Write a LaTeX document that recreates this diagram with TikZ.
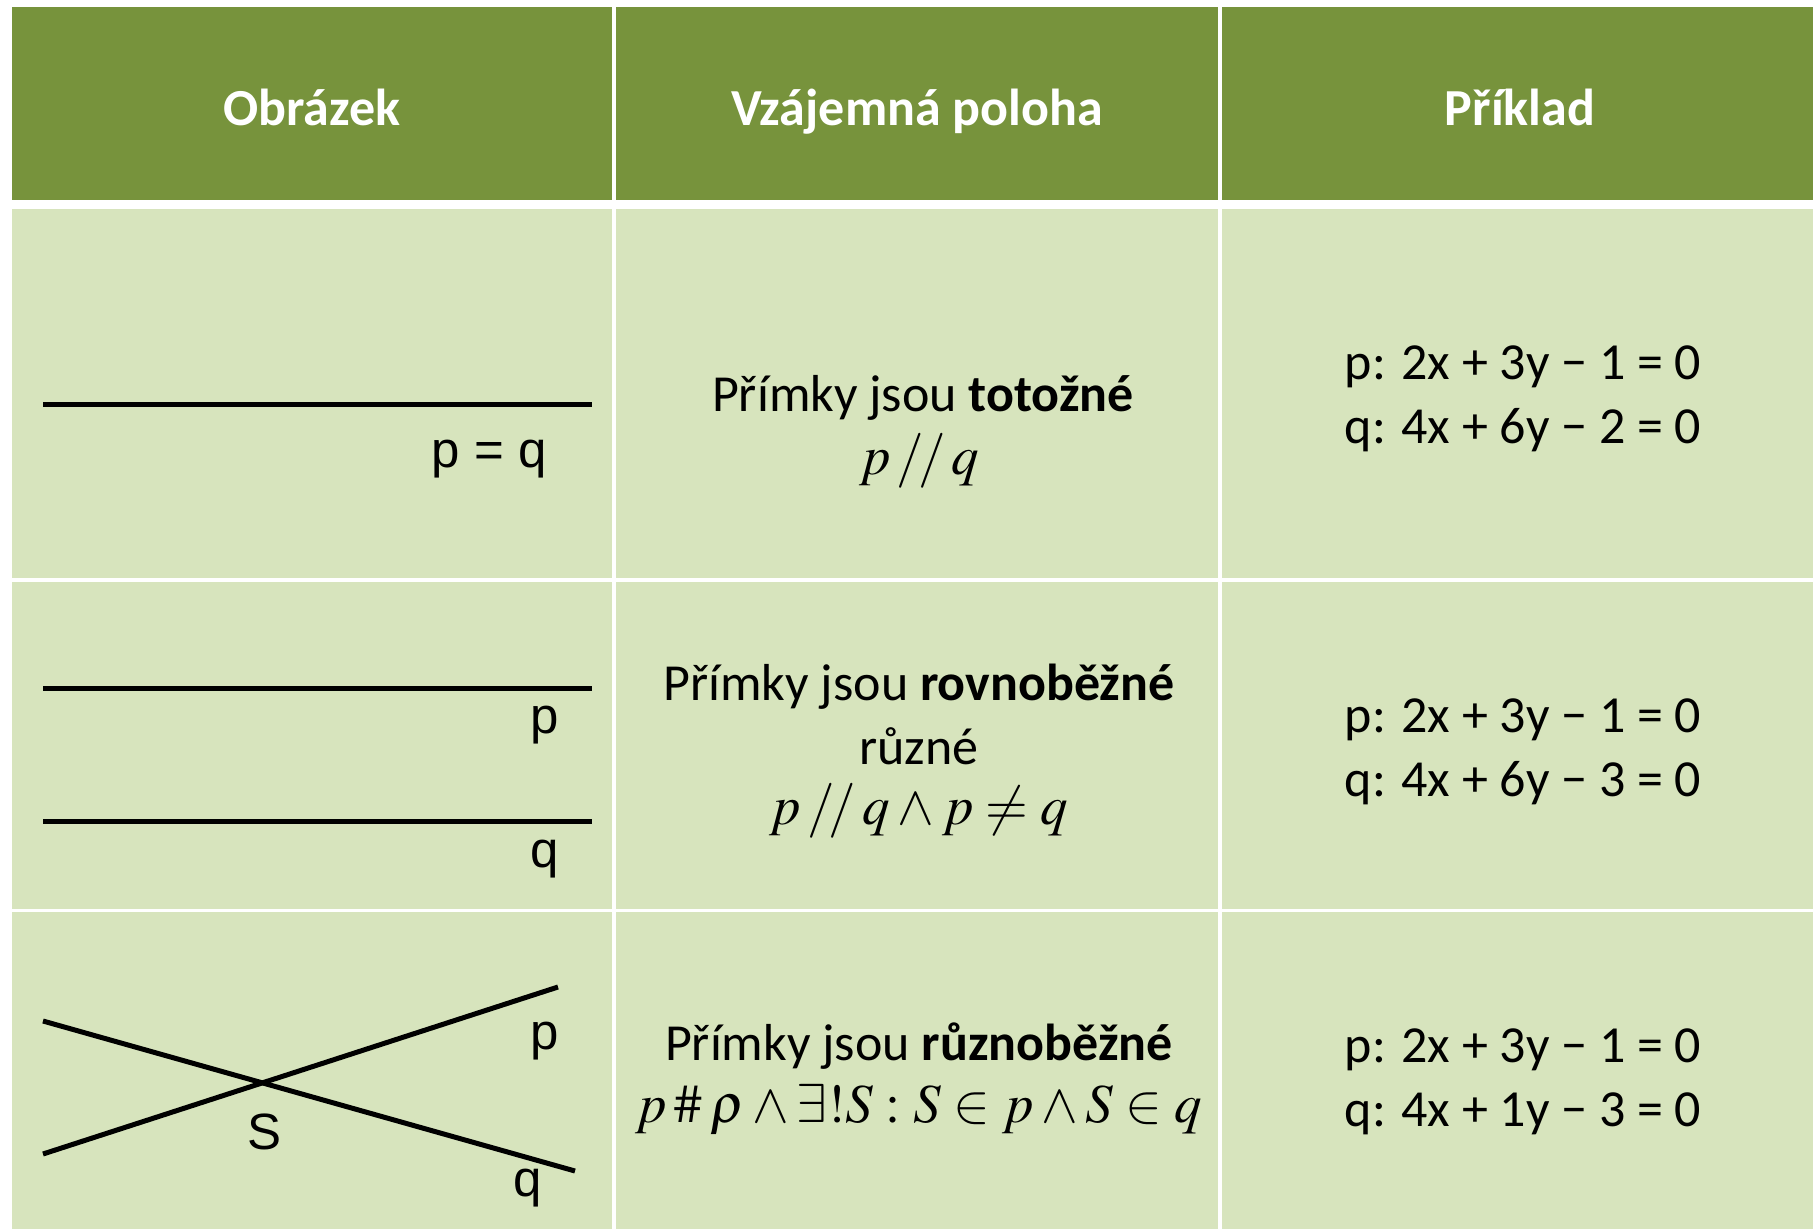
\documentclass[tikz,border=0pt]{standalone}
\usepackage{mathptmx}
\usepackage[no-math]{fontspec}
\setmainfont{Carlito}
\newfontfamily\arialf{Liberation Sans}
\definecolor{hdr}{HTML}{77933C}
\definecolor{cell}{HTML}{D7E4BD}
\begin{document}
\begin{tikzpicture}[x=1pt,y=-1pt,
  hdrtext/.style={text=white,font=\fontsize{52}{62}\selectfont\bfseries,inner sep=0pt,anchor=base},
  bodytext/.style={text=black,font=\fontsize{52}{64}\selectfont,align=center,inner sep=0pt},
  mathtext/.style={text=black,font=\fontsize{55}{64}\selectfont,inner sep=0pt},
  lbl/.style={text=black,font=\fontsize{51}{60}\selectfont\arialf,inner sep=0pt},
  geo/.style={line width=5pt,black}]
\useasboundingbox (0,0) rectangle (1813,1229);
\fill[white] (0,0) rectangle (1813,1229);
% header
\fill[hdr] (12,7) rectangle (612,200);
\fill[hdr] (616,7) rectangle (1218,200);
\fill[hdr] (1222,7) rectangle (1813,200);
% body cells
\foreach \ya/\yb in {209/578,582/909,912/1229}{
  \fill[cell] (12,\ya) rectangle (612,\yb);
  \fill[cell] (616,\ya) rectangle (1218,\yb);
  \fill[cell] (1222,\ya) rectangle (1813,\yb);
}
% header text
\node[hdrtext] (h1) at (312,125) {Obrázek};
\node[hdrtext] (h2) at (917,125) {Vzájemná poloha};
\node[hdrtext] (h3) at (1520,125) {Příklad};
% row 1
\coordinate (r1a) at (43,404);
\coordinate (r1b) at (592,404);
\draw[geo] (r1a) -- (r1b);
\node[lbl] (r1l) at (489,459) {p = q};
\node[bodytext] (r1t) at (923,398) {Přímky jsou \textbf{totožné}};
\node[mathtext] (r1m) at (919,461) {$p\,{/\!/}\,q$};
\node[bodytext] (r1e) at (1523,399) {p: 2x + 3y − 1 = 0\\q: 4x + 6y − 2 = 0};
% row 2
\coordinate (r2pa) at (43,688);
\coordinate (r2pb) at (592,688);
\coordinate (r2qa) at (43,821);
\coordinate (r2qb) at (592,821);
\draw[geo] (r2pa) -- (r2pb);
\draw[geo] (r2qa) -- (r2qb);
\node[lbl] (r2lp) at (545,725) {p};
\node[lbl] (r2lq) at (545,859) {q};
\node[bodytext] (r2t) at (919,714) {Přímky jsou \textbf{rovnoběžné}\\různé};
\node[mathtext] (r2m) at (919,811) {$p\,{/\!/}\,q\wedge p\neq q$};
\node[bodytext] (r2e) at (1523,752) {p: 2x + 3y − 1 = 0\\q: 4x + 6y − 3 = 0};
% row 3
\coordinate (r3pa) at (43,1154);
\coordinate (r3pb) at (558,987);
\coordinate (r3qa) at (43,1021);
\coordinate (r3qb) at (575,1171);
\draw[geo] (r3pa) -- (r3pb);
\draw[geo] (r3qa) -- (r3qb);
\node[lbl] (r3ls) at (265,1132) {S};
\node[lbl] (r3lp) at (545,1041) {p};
\node[lbl] (r3lq) at (528,1188) {q};
\node[bodytext] (r3t) at (919,1046) {Přímky jsou \textbf{různoběžné}};
\node[mathtext] (r3m) at (919,1110) {$p\mathbin{\#}\rho\wedge\exists!S:S\in p\wedge S\in q$};
\node[bodytext] (r3e) at (1523,1082) {p: 2x + 3y − 1 = 0\\q: 4x + 1y − 3 = 0};
\end{tikzpicture}
\end{document}
